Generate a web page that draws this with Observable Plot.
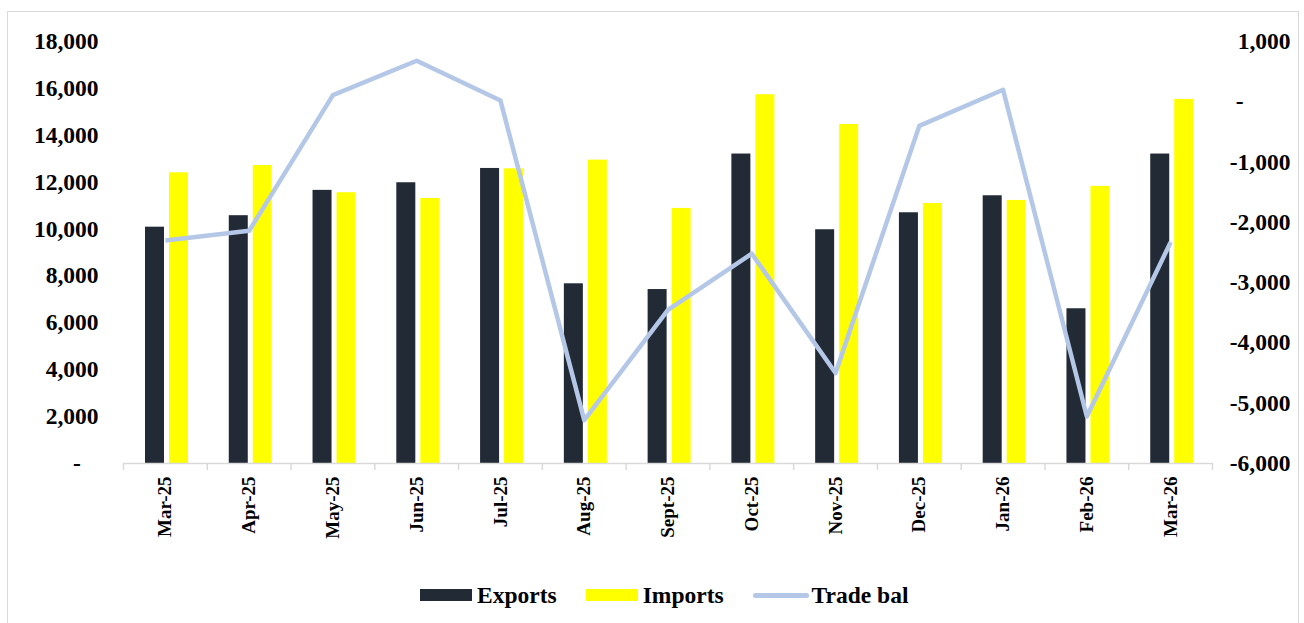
<!DOCTYPE html>
<html>
<head>
<meta charset="utf-8">
<script src="https://cdn.jsdelivr.net/npm/d3@7"></script>
<script src="https://cdn.jsdelivr.net/npm/@observablehq/plot@0.6"></script>
<style>
  html, body { margin: 0; padding: 0; background: #fff; width: 1304px; height: 623px; overflow: hidden; }
  #wrap { position: relative; width: 1304px; height: 623px; font-family: "Liberation Serif", "Times New Roman", serif; }
  #frame { position: absolute; left: 7px; top: 11px; width: 1292px; height: 700px; border: 1px solid #d9d9d9; box-sizing: border-box; }
  #chart { position: absolute; left: 0; top: 0; }
  #legend { position: absolute; left: 420px; top: 570px; height: 50px; display: flex; align-items: center; font-weight: bold; font-size: 23.5px; color: #000; }
  .item { display: flex; align-items: center; margin-right: 29px; }
  .sw { width: 52px; height: 12px; margin-right: 5px; }
  .ln { width: 56px; height: 5px; border-radius: 3px; margin-right: 3px; }
</style>
</head>
<body>
<div id="wrap">
  <div id="frame"></div>
  <div id="chart"></div>
  <div id="legend"></div>
</div>
<script>
const months = ["Mar-25","Apr-25","May-25","Jun-25","Jul-25","Aug-25","Sept-25","Oct-25","Nov-25","Dec-25","Jan-26","Feb-26","Mar-26"];
const exportsVals = [10080, 10570, 11650, 11975, 12585, 7665, 7420, 13200, 9970, 10695, 11420, 6600, 13200];
const importsVals = [12400, 12710, 11550, 11305, 12570, 12940, 10880, 15730, 14460, 11090, 11220, 11820, 15530];
const tradeBal = [-2300, -2140, 110, 680, 20, -5280, -3450, -2520, -4500, -400, 200, -5220, -2330];
const leftTicks = [0, 2000, 4000, 6000, 8000, 10000, 12000, 14000, 16000, 18000];
const rightTicks = [-6000, -5000, -4000, -3000, -2000, -1000, 0, 1000];
const seriesNames = ["Exports", "Imports", "Trade bal"];
const seriesColors = ["#222a35", "#ffff00", "#b4c7e7"];

const leftMax = 18000, rightMin = -6000, rightMax = 1000;
const toLeft = v => (v - rightMin) * leftMax / (rightMax - rightMin);
const fromLeft = v => Math.round(v * (rightMax - rightMin) / leftMax + rightMin);
const fmt = v => d3.format(",")(v).replace("\u2212", "-");

const W = 1304, H = 570, mL = 123, mR = 92, mT = 41, mB = 107;
const bw = (W - mL - mR) / months.length;

const rows = months.map((m, i) => ({month: m, exp: exportsVals[i], imp: importsVals[i], bal: toLeft(tradeBal[i])}));

const chart = Plot.plot({
  width: W, height: H,
  marginLeft: mL, marginRight: mR, marginTop: mT, marginBottom: mB,
  style: {fontFamily: "'Liberation Serif', 'Times New Roman', serif", fontWeight: "bold", fontSize: "23.5px", color: "#000", background: "transparent", overflow: "visible"},
  x: {type: "band", domain: months, padding: 0, round: false, axis: null},
  y: {domain: [0, leftMax], axis: null},
  marks: [
    Plot.barY(rows, {x: "month", y: "exp", fill: seriesColors[0], insetLeft: 22, insetRight: bw - 41}),
    Plot.barY(rows, {x: "month", y: "imp", fill: seriesColors[1], insetLeft: 46, insetRight: bw - 65}),
    Plot.ruleY([0], {stroke: "#d9d9d9", strokeWidth: 1.5}),
    Plot.ruleX(rows, {x: "month", y1: 0, y2: 0, insetBottom: -7, dx: -bw / 2, stroke: "#d9d9d9", strokeWidth: 1.5}),
    Plot.ruleX(rows.slice(-1), {x: "month", y1: 0, y2: 0, insetBottom: -7, dx: bw / 2, stroke: "#d9d9d9", strokeWidth: 1.5}),
    Plot.line(rows, {x: "month", y: "bal", stroke: seriesColors[2], strokeWidth: 4.5, strokeLinejoin: "round", strokeLinecap: "butt"}),
    Plot.axisY({anchor: "left", ticks: leftTicks, tickSize: 0, tickPadding: 25, label: null, fontSize: 23.5,
      tickFormat: d => d === 0 ? "-\u00a0\u00a0\u00a0" : fmt(d)}),
    Plot.axisY({anchor: "right", ticks: rightTicks.map(toLeft), tickSize: 0, tickPadding: 78, textAnchor: "end", label: null, fontSize: 23.5,
      tickFormat: d => { const v = fromLeft(d); return v === 0 ? "-" + "\u00a0".repeat(8) : fmt(v); }}),
    Plot.axisX({tickRotate: -90, tickSize: 0, tickPadding: 13, label: null, fontSize: 19})
  ]
});
document.getElementById("chart").appendChild(chart);

const legend = document.getElementById("legend");
seriesNames.forEach((name, i) => {
  const item = document.createElement("div");
  item.className = "item";
  const sw = document.createElement("div");
  sw.className = i === 2 ? "ln" : "sw";
  sw.style.background = seriesColors[i];
  const t = document.createElement("span");
  t.textContent = name;
  item.appendChild(sw);
  item.appendChild(t);
  legend.appendChild(item);
});
</script>
</body>
</html>
